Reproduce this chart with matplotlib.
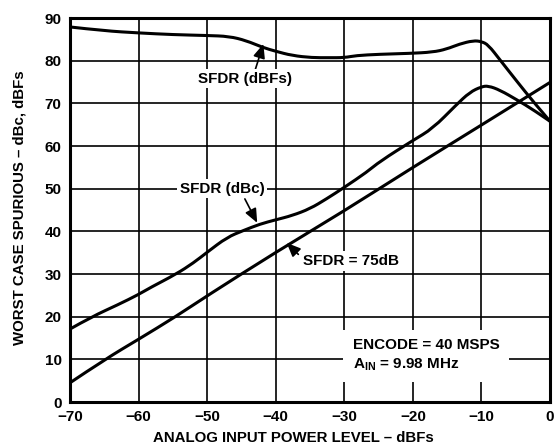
import matplotlib
matplotlib.use("Agg")
import matplotlib.pyplot as plt
from matplotlib.path import Path
from matplotlib.patches import PathPatch

plt.rcParams["font.family"] = ["Liberation Sans", "DejaVu Sans"]
plt.rcParams["font.weight"] = "bold"

# SFDR (dBFs) curve
dbfs_x = [-70, -65, -60, -55, -50, -46.8, -44.3, -41.9, -40, -37.6, -34.7,
          -32.3, -30, -28.3, -24.9, -20.5, -17.1, -15.1, -13.2, -11.2, -10,
          -9, -7.3, -4.8, -2.35, 0]
dbfs_y = [87.9, 87.0, 86.5, 86.1, 85.9, 85.7, 84.7, 83.1, 82.2, 81.2, 80.7,
          80.7, 80.7, 81.2, 81.5, 81.7, 82.0, 82.7, 83.9, 84.7, 84.5,
          83.7, 80.2, 75.1, 70.2, 65.8]

# SFDR (dBc) curve
dbc_x = [-70, -66.8, -63, -60, -58.3, -54.5, -52, -50, -47.1, -44.7, -42.3,
         -40, -37.6, -35, -32.6, -30, -26.7, -24.8, -20, -17.1, -13.7,
         -11.7, -10, -9, -7.3, -4.8, -2.35, 0]
dbc_y = [17.1, 20.0, 22.8, 25.2, 26.8, 30.0, 32.6, 35.1, 38.6, 40.2, 41.7,
         42.7, 43.7, 45.3, 47.6, 50.3, 53.9, 56.4, 61.3, 64.1, 69.6,
         72.6, 73.9, 74.1, 73.1, 70.8, 68.4, 65.8]

# SFDR = 75dB reference line
ref_x = [-70, -64.9, -60, -54.6, -50, -40, -30, -20, -10, 0]
ref_y = [4.5, 10.0, 14.7, 20.0, 24.9, 35.1, 44.8, 55.0, 64.9, 74.9]

x_ticks = [-70, -60, -50, -40, -30, -20, -10, 0]
y_ticks = [0, 10, 20, 30, 40, 50, 60, 70, 80, 90]


def smooth_curve(ax, xs, ys):
    # quadratic bezier through segment midpoints, read points as controls
    pts = list(zip(xs, ys))
    verts = [pts[0]]
    codes = [Path.MOVETO]
    for i in range(1, len(pts) - 1):
        mid = ((pts[i][0] + pts[i + 1][0]) / 2, (pts[i][1] + pts[i + 1][1]) / 2)
        if i == len(pts) - 2:
            mid = pts[-1]
        verts += [pts[i], mid]
        codes += [Path.CURVE3, Path.CURVE3]
    patch = PathPatch(Path(verts, codes), facecolor="none", edgecolor="black",
                      lw=2.2, zorder=4, transform=ax.transData, clip_on=True)
    ax.add_patch(patch)


fig = plt.figure(figsize=(5.57, 4.46), dpi=100)
ax = fig.add_axes([70 / 557, 44 / 446, 480 / 557, 384 / 446])

smooth_curve(ax, dbfs_x, dbfs_y)
smooth_curve(ax, dbc_x, dbc_y)
smooth_curve(ax, ref_x, ref_y)

ax.set_xlim(-70, 0)
ax.set_ylim(0, 90)
ax.set_xticks(x_ticks)
ax.set_yticks(y_ticks)
ax.grid(True, color="black", lw=1.2)
ax.set_axisbelow(True)
ax.tick_params(length=0, labelsize=11, pad=6)
for lab in ax.get_xticklabels() + ax.get_yticklabels():
    lab.set_fontweight("bold")
for s in ax.spines.values():
    s.set_linewidth(2.2)
    s.set_zorder(6)

fig.text(293 / 557, 8 / 446, "ANALOG INPUT POWER LEVEL \u2013 dBFs",
         ha="center", va="center", fontsize=10.8, fontweight="bold")
fig.text(20 / 557, 0.535, "WORST CASE SPURIOUS \u2013 dBc, dBFs",
         ha="center", va="center", rotation=90, fontsize=10.8, fontweight="bold")

box = dict(facecolor="white", edgecolor="none", pad=2)
arrow = dict(arrowstyle="-|>,head_length=0.7,head_width=0.3", color="black",
             lw=1.2, mutation_scale=12, shrinkA=0, shrinkB=0)

ax.annotate("", xy=(-41.8, 83.9), xytext=(-43.0, 77.8), arrowprops=arrow, zorder=5)
ax.text(-44.5, 75.8, "SFDR (dBFs)", ha="center", va="center", fontsize=11,
        fontweight="bold", bbox=box, zorder=5)

ax.annotate("", xy=(-42.7, 42.0), xytext=(-44.5, 47.6), arrowprops=arrow, zorder=5)
ax.text(-47.8, 50, "SFDR (dBc)", ha="center", va="center", fontsize=11,
        fontweight="bold", bbox=box, zorder=5)

ax.annotate("", xy=(-38.4, 37.3), xytext=(-36.7, 34.6), arrowprops=arrow, zorder=5)
ax.text(-29.05, 33.1, "SFDR = 75dB", ha="center", va="center", fontsize=11,
        fontweight="bold", bbox=box, zorder=5)

ax.text(-28.8, 10.9, "ENCODE = 40 MSPS\nA$_{\\mathregular{IN}}$ = 9.98 MHz",
        ha="left", va="center", fontsize=11, fontweight="bold", linespacing=1.3,
        bbox=dict(facecolor="white", edgecolor="none", pad=7), zorder=5)

fig.savefig("out.png", dpi=100)
